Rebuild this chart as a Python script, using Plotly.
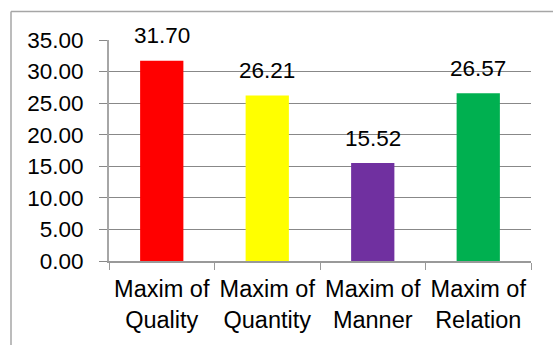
import plotly.graph_objects as go

categories = ["Maxim of<br>Quality", "Maxim of<br>Quantity", "Maxim of<br>Manner", "Maxim of<br>Relation"]
values = [31.70, 26.21, 15.52, 26.57]
colors = ["#FF0000", "#FFFF00", "#7030A0", "#00B050"]
y_ticks = [0, 5, 10, 15, 20, 25, 30, 35]

W, H = 553, 345
ML, MR, MT, MB = 109, 22, 40, 81
pw, ph = W - ML - MR, H - MT - MB

fig = go.Figure(
    go.Bar(
        x=categories,
        y=values,
        marker=dict(color=colors, line=dict(width=0)),
        width=0.41,
        hoverinfo="skip",
    )
)

# value labels above each bar
for c, v in zip(categories, values):
    fig.add_annotation(
        x=c, y=v, text=f"{v:.2f}", showarrow=False,
        yshift=25, yanchor="middle",
        font=dict(size=22.5, color="#000000"),
    )

# chart-area frame (left and top edges)
fx = -(ML - 11) / pw
fy = (H - MB - 11) / ph
frame = dict(color="#A6A6A6", width=1.5)
fig.add_shape(type="line", xref="paper", yref="paper", x0=fx, x1=fx, y0=-1, y1=fy, line=frame)
fig.add_shape(type="line", xref="paper", yref="paper", x0=fx, x1=2, y0=fy, y1=fy, line=frame)

fig.update_layout(
    width=W, height=H,
    margin=dict(l=ML, r=MR, t=MT, b=MB, pad=0),
    paper_bgcolor="white", plot_bgcolor="white",
    font=dict(family="Liberation Sans, Arial, sans-serif", color="#000000"),
    showlegend=False,
    xaxis=dict(
        type="category",
        tickson="boundaries",
        ticks="outside", ticklen=7, tickcolor="#999999", tickwidth=1,
        showline=True, linecolor="#999999", linewidth=1.5,
        showgrid=False,
        tickfont=dict(size=23.5),
        ticklabelstandoff=6,
    ),
    yaxis=dict(
        range=[0, 35],
        tickvals=y_ticks,
        ticktext=[f"{t:.2f}" for t in y_ticks],
        ticks="outside", ticklen=8, tickcolor="#888888", tickwidth=1,
        showline=True, linecolor="#A6A6A6", linewidth=2,
        showgrid=True, gridcolor="#888888", gridwidth=1,
        zeroline=False,
        tickfont=dict(size=22.5),
        ticklabelstandoff=11,
    ),
)

fig.write_html("out.html")
